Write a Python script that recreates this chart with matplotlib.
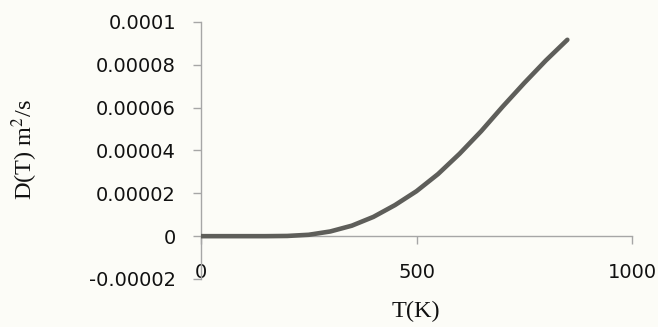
import numpy as np
import matplotlib
matplotlib.use("Agg")
import matplotlib.pyplot as plt
import matplotlib.ticker as mticker

# Diffusion coefficient vs temperature
temp_K = [0, 50, 100, 150, 200, 250, 300, 350, 400, 450, 500,
          550, 600, 650, 700, 750, 800, 850]
diff_m2s = [0.0, 0.0, 0.0, 0.0, 1.0e-7, 6.5e-7, 2.2e-6, 4.9e-6, 9.0e-6,
            1.45e-5, 2.1e-5, 2.9e-5, 3.85e-5, 4.9e-5, 6.05e-5, 7.15e-5,
            8.2e-5, 9.17e-5]

y_ticks = [-0.00002, 0.0, 0.00002, 0.00004, 0.00006, 0.00008, 0.0001]
y_tick_labels = ["-0.00002", "0", "0.00002", "0.00004", "0.00006",
                 "0.00008", "0.0001"]
x_ticks = [0, 500, 1000]
x_tick_labels = ["0", "500", "1000"]

BG = "#fcfcf7"
AXIS_GRAY = "#a6a6a6"

fig = plt.figure(figsize=(6.58, 3.27), dpi=100, facecolor=BG)
ax = fig.add_axes([201 / 658, 48 / 327, 431 / 658, 257 / 327])
ax.set_facecolor(BG)

ax.plot(temp_K, diff_m2s, color="#5e5e5a", lw=3.3,
        solid_capstyle="round", solid_joinstyle="round", zorder=3)

ax.set_xlim(0, 1000)
ax.set_ylim(-0.00002, 0.0001)

# Excel-style axes: horizontal axis crosses at y = 0
ax.spines["top"].set_visible(False)
ax.spines["right"].set_visible(False)
ax.spines["bottom"].set_position(("data", 0))
for side in ("left", "bottom"):
    ax.spines[side].set_color(AXIS_GRAY)
    ax.spines[side].set_linewidth(1.0)

ax.yaxis.set_major_locator(mticker.FixedLocator(y_ticks))
ax.yaxis.set_major_formatter(mticker.FixedFormatter(y_tick_labels))
ax.xaxis.set_major_locator(mticker.FixedLocator(x_ticks))
ax.xaxis.set_major_formatter(mticker.FixedFormatter(x_tick_labels))

ax.tick_params(axis="y", direction="out", length=6, width=1.0,
               color=AXIS_GRAY, pad=12, labelsize=14, labelcolor="#111111")
ax.tick_params(axis="x", direction="out", length=6, width=1.0,
               color=AXIS_GRAY, pad=13, labelsize=14, labelcolor="#111111")
for lab in ax.get_xticklabels() + ax.get_yticklabels():
    lab.set_family("DejaVu Sans")

fig.text(25 / 658, 1 - 150 / 327, r"D(T) m$^2$/s", rotation=90,
         ha="center", va="center", fontsize=17.5,
         family="Liberation Serif", color="#111111", math_fontfamily="stix")
fig.text(416 / 658, 1 - 311 / 327, "T(K)", ha="center", va="center",
         fontsize=17.5, family="Liberation Serif", color="#111111")

fig.savefig("out.png", dpi=100, facecolor=BG)
